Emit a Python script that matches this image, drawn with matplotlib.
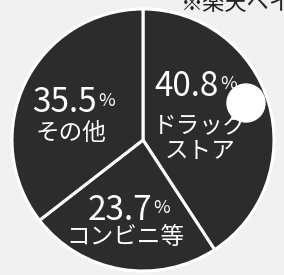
import matplotlib
matplotlib.use("Agg")
import matplotlib.pyplot as plt
from matplotlib.patches import Circle

plt.rcParams['font.family'] = ['Noto Sans CJK JP', 'DejaVu Sans']

categories = ["ドラッグ\nストア", "コンビニ等", "その他"]
values = [40.8, 23.7, 35.5]
title_note = "※楽天ペイ"

W, H = 284, 275
fig = plt.figure(figsize=(W / 100, H / 100), dpi=100)
fig.patch.set_facecolor("#f1f1f1")
ax = fig.add_axes([0, 0, 1, 1])

cx, cy, r = 143, H - 140, 131
ax.pie(values, center=(cx, cy), radius=r, startangle=90, counterclock=False,
       colors=["#2c2c2c"] * 3,
       wedgeprops=dict(edgecolor="white", linewidth=2.2), frame=True)
ax.set_xlim(0, W)
ax.set_ylim(0, H)
ax.set_aspect("equal")
ax.axis("off")

# label anchor positions (image pixel coords): number line, name line
pos = [(219, 86, 200, 139), (152, 210, 125, 237), (97, 103, 71, 133)]
for (nx, ny, tx, ty), v, name in zip(pos, values, categories):
    ax.text(nx, H - ny, f"{v:.1f}", color="white", fontsize=24,
            ha="right", va="center")
    ax.text(nx + 1, H - ny + 2, "%", color="white", fontsize=13,
            ha="left", va="center")
    ax.text(tx, H - ty, name, color="white", fontsize=17, ha="center",
            va="center", linespacing=1.05)

# white blot over the label
ax.add_patch(Circle((246, H - 103), 19, color="white", zorder=5))

ax.text(181, H - 4, title_note, color="#222222", fontsize=16,
        ha="left", va="center")

fig.savefig("out.png", dpi=100, facecolor=fig.get_facecolor())
